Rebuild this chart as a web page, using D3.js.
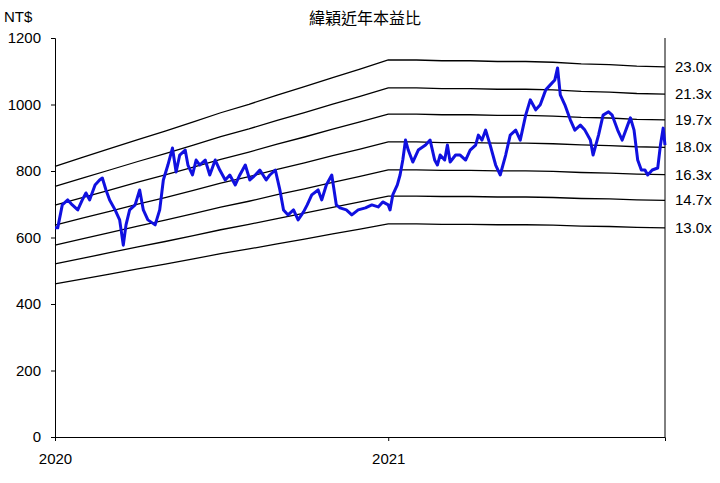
<!DOCTYPE html>
<html>
<head>
<meta charset="utf-8">
<script src="https://cdn.jsdelivr.net/npm/d3@7"></script>
<style>
body { margin: 0; background: #fff; }
text { font-family: "Liberation Sans", Arial, "Noto Sans CJK TC", sans-serif; }
</style>
</head>
<body>
<div id="chart"></div>
<script>
// day offsets from 2020-01-01 and closing price
var priceDays = [0,3,8,14,19,25,30,34,38,44,49,52,56,60,66,71,75,78,82,88,93,97,102,110,115,119,124,129,133,137,143,146,151,155,159,165,170,176,181,187,192,198,203,209,214,220,225,232,236,242,247,251,256,262,267,273,277,282,289,293,298,304,309,313,320,326,333,341,348,355,360,366,
368,371,376,379,382,385,388,393,399,407,412,417,420,423,428,431,434,440,445,451,456,462,465,469,473,478,484,489,495,500,506,511,517,522,528,533,539,544,549,552,555,560,566,571,577,582,588,591,597,602,608,612,618,623,629,632,636,640,644,648,651,656,662,665,668,670];
var prices = [629,629,698,713,698,683,713,734,713,758,773,779,743,713,683,653,577,638,683,698,743,683,653,638,683,773,818,869,797,848,863,818,788,833,818,833,788,833,803,773,788,758,788,818,773,788,803,773,788,803,743,683,668,683,653,677,698,728,743,713,758,788,698,689,683,668,683,689,698,692,707,698,
683,728,758,788,833,893,863,827,863,878,893,833,818,848,833,878,827,848,848,833,863,878,908,893,923,878,818,788,848,908,923,893,968,1014,984,999,1044,1059,1074,1110,1029,999,954,923,938,923,893,848,908,968,978,968,923,893,938,960,923,833,803,803,788,803,809,878,929,878];

// monthly EPS (trailing 4Q), Jan 2020 .. Nov 2021
var epsMonths = ["2020-01","2020-02","2020-03","2020-04","2020-05","2020-06","2020-07","2020-08","2020-09","2020-10","2020-11","2020-12","2021-01","2021-02","2021-03","2021-04","2021-05","2021-06","2021-07","2021-08","2021-09","2021-10","2021-11"];
var eps = [35.4,36.6,37.7,38.9,40.0,41.2,42.4,43.5,44.7,45.8,47.0,48.1,49.3,49.3,49.2,49.2,49.1,49.1,49.0,48.8,48.7,48.5,48.4];
var multiples = [13.0,14.7,16.3,18.0,19.7,21.3,23.0];
var yTicks = [0,200,400,600,800,1000,1200];
var xTicks = ["2020-01-01","2021-01-01"];

var W = 720, H = 483;
var m = {left: 55, right: 55, top: 38, bottom: 46};
var start = new Date(2020, 0, 1);
var toDate = function(d){ return d3.timeDay.offset(start, d); };
var parseM = d3.timeParse("%Y-%m");
var parseD = d3.timeParse("%Y-%m-%d");

var svg = d3.select("#chart").append("svg").attr("width", W).attr("height", H);

var x = d3.scaleTime().domain([start, toDate(670)]).range([m.left, W - m.right]);
var y = d3.scaleLinear().domain([0, 1200]).range([H - m.bottom, m.top]);

// axes
svg.append("g").attr("transform", "translate(" + m.left + ",0)")
  .call(d3.axisLeft(y).tickValues(yTicks).tickFormat(d3.format("d")).tickSize(4).tickPadding(10))
  .call(function(g){ g.selectAll("text").attr("font-size", 15).attr("fill", "#000"); g.select(".domain").attr("stroke", "#000"); });
svg.append("g").attr("transform", "translate(0," + (H - m.bottom) + ")")
  .call(d3.axisBottom(x).tickValues(xTicks.map(parseD)).tickFormat(d3.timeFormat("%Y")).tickSize(4).tickPadding(12))
  .call(function(g){ g.selectAll("text").attr("font-size", 15).attr("fill", "#000"); g.select(".domain").attr("stroke", "#000"); });
svg.append("line").attr("x1", W - m.right).attr("x2", W - m.right)
  .attr("y1", m.top).attr("y2", H - m.bottom).attr("stroke", "#000");

// PE band lines
var epsLine = d3.line().x(function(d){ return x(parseM(d[0])); }).y(function(d){ return y(d[1]); });
var lastIdx = eps.length - 1;
multiples.forEach(function(k){
  svg.append("path")
    .attr("d", epsLine(epsMonths.map(function(mo, i){ return [mo, eps[i] * k]; })))
    .attr("fill", "none").attr("stroke", "#000").attr("stroke-width", 1.3);
  svg.append("text").attr("x", W - m.right + 10).attr("y", y(eps[lastIdx] * k) + 5)
    .attr("font-size", 15).text(k.toFixed(1) + "x");
});

// price
var priceLine = d3.line().x(function(d){ return x(toDate(d[0])); }).y(function(d){ return y(d[1]); });
svg.append("path")
  .attr("d", priceLine(priceDays.map(function(d, i){ return [d, prices[i]]; })))
  .attr("fill", "none").attr("stroke", "#1010e0").attr("stroke-width", 3).attr("stroke-linejoin", "round");

svg.append("text").attr("x", 365).attr("y", 24).attr("text-anchor", "middle")
  .attr("font-size", 16).text("緯穎近年本益比");
svg.append("text").attr("x", 4).attr("y", 22).attr("font-size", 15).text("NT$");
</script>
</body>
</html>
